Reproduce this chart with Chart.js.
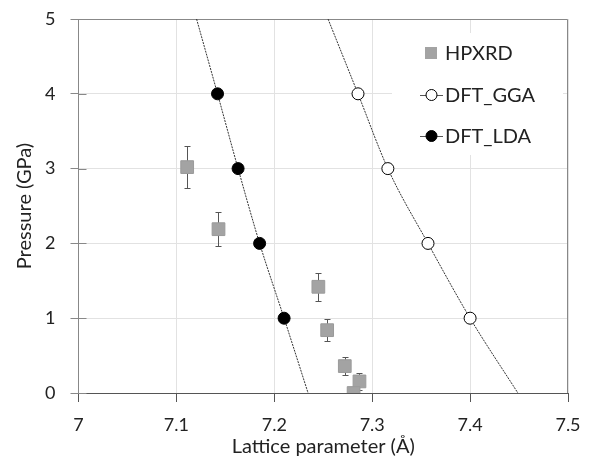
<!DOCTYPE html>
<html lang="en">
<head>
  <meta charset="UTF-8">
  <title>Pressure vs lattice parameter</title>
  <script src="https://cdn.jsdelivr.net/npm/chart.js"></script>
  <style>
    html, body { margin: 0; padding: 0; background: #fff; }
    #wrap { width: 598px; height: 465px; }
  </style>
</head>
<body>
  <div id="wrap"><canvas id="grafico" width="598" height="465"></canvas></div>
  <script>
    // HPXRD measurements (square markers with error bars)
    const hpxrdLattice  = [7.111, 7.143, 7.245, 7.254, 7.272, 7.287, 7.281];
    const hpxrdPressure = [3.02, 2.19, 1.42, 0.84, 0.36, 0.155, 0.0];
    const hpxrdError    = [0.28, 0.23, 0.19, 0.15, 0.12, 0.11, 0];

    // DFT points
    const ggaLattice  = [7.2855, 7.316, 7.357, 7.400];
    const ggaPressure = [4, 3, 2, 1];
    const ldaLattice  = [7.142, 7.163, 7.185, 7.210];
    const ldaPressure = [4, 3, 2, 1];

    const ggaTrendLattice  = [7.2549, 7.2855, 7.316, 7.357, 7.400, 7.4488];
    const ggaTrendPressure = [5, 4, 3, 2, 1, 0];
    const ldaTrendLattice  = [7.1206, 7.142, 7.163, 7.185, 7.210, 7.2345];
    const ldaTrendPressure = [5, 4, 3, 2, 1, 0];

    const xTicks = [7, 7.1, 7.2, 7.3, 7.4, 7.5];
    const yTicks = [0, 1, 2, 3, 4, 5];

    const pts = (xs, ys) => xs.map((v, i) => ({ x: v, y: ys[i] }));
    const FONT = "Lato, 'Open Sans', sans-serif";

    // error bars drawn under the squares
    const errorBars = {
      id: 'errorBars',
      beforeDatasetsDraw(chart) {
        const { ctx, scales: { x, y } } = chart;
        ctx.save();
        ctx.strokeStyle = '#555';
        ctx.lineWidth = 1;
        hpxrdLattice.forEach((v, i) => {
          const e = hpxrdError[i];
          if (!e) return;
          const px = Math.round(x.getPixelForValue(v)) + 0.5;
          const top = Math.round(y.getPixelForValue(hpxrdPressure[i] + e)) + 0.5;
          const bot = Math.round(y.getPixelForValue(hpxrdPressure[i] - e)) + 0.5;
          ctx.beginPath();
          ctx.moveTo(px, top); ctx.lineTo(px, bot);
          ctx.moveTo(px - 3, top); ctx.lineTo(px + 3, top);
          ctx.moveTo(px - 3, bot); ctx.lineTo(px + 3, bot);
          ctx.stroke();
        });
        ctx.restore();
      }
    };

    // top/right frame and the inner half of the y tick marks
    const frame = {
      id: 'frame',
      beforeDatasetsDraw(chart) {
        const { ctx, chartArea: a, scales: { y } } = chart;
        ctx.save();
        ctx.strokeStyle = '#888';
        ctx.lineWidth = 1;
        ctx.beginPath();
        ctx.moveTo(a.left, Math.round(a.top) + 0.5);
        ctx.lineTo(Math.round(a.right) - 0.5, Math.round(a.top) + 0.5);
        ctx.lineTo(Math.round(a.right) - 0.5, a.bottom);
        yTicks.forEach(v => {
          const py = Math.round(y.getPixelForValue(v)) + 0.5;
          ctx.moveTo(a.left, py);
          ctx.lineTo(a.left + 8, py);
        });
        ctx.stroke();
        ctx.restore();
      }
    };

    // legend inside the plot, top right
    const legendBox = {
      id: 'legendBox',
      afterDatasetsDraw(chart) {
        const { ctx } = chart;
        ctx.save();
        ctx.fillStyle = '#fff';
        ctx.fillRect(392, 33, 171, 122);
        ctx.font = '20px ' + FONT;
        ctx.textBaseline = 'middle';
        // HPXRD
        ctx.fillStyle = '#a3a3a3';
        ctx.fillRect(425, 47, 12, 12);
        ctx.fillStyle = '#222';
        ctx.fillText('HPXRD', 445, 54);
        // DFT_GGA / DFT_LDA
        [['DFT_GGA', 95, '#fff'], ['DFT_LDA', 136, '#000']].forEach(([txt, yy, fill]) => {
          ctx.strokeStyle = '#555';
          ctx.beginPath();
          ctx.moveTo(420, yy + 0.5); ctx.lineTo(443, yy + 0.5);
          ctx.stroke();
          ctx.beginPath();
          ctx.arc(431.5, yy, 5.5, 0, Math.PI * 2);
          ctx.fillStyle = fill;
          ctx.fill();
          ctx.strokeStyle = '#000';
          ctx.stroke();
          ctx.fillStyle = '#222';
          ctx.fillText(txt, 445, yy + 1);
        });
        ctx.restore();
      }
    };

    new Chart(document.getElementById('grafico'), {
      type: 'scatter',
      data: {
        datasets: [
          {
            label: 'HPXRD',
            data: pts(hpxrdLattice, hpxrdPressure),
            pointStyle: 'rect',
            pointRadius: 9,
            backgroundColor: '#a3a3a3',
            borderColor: '#9a9a9a',
            borderWidth: 1,
            order: 1
          },
          {
            label: 'DFT_GGA',
            data: pts(ggaLattice, ggaPressure),
            pointRadius: 6,
            backgroundColor: '#fff',
            borderColor: '#000',
            borderWidth: 1,
            order: 1
          },
          {
            label: 'DFT_LDA',
            data: pts(ldaLattice, ldaPressure),
            pointRadius: 6,
            backgroundColor: '#000',
            borderColor: '#000',
            borderWidth: 1,
            order: 1
          },
          {
            label: 'GGA trend',
            data: pts(ggaTrendLattice, ggaTrendPressure),
            showLine: true,
            cubicInterpolationMode: 'monotone',
            pointRadius: 0,
            borderColor: '#333',
            borderWidth: 1,
            borderDash: [2, 1],
            order: 10
          },
          {
            label: 'LDA trend',
            data: pts(ldaTrendLattice, ldaTrendPressure),
            showLine: true,
            cubicInterpolationMode: 'monotone',
            pointRadius: 0,
            borderColor: '#333',
            borderWidth: 1,
            borderDash: [2, 1],
            order: 10
          }
        ]
      },
      options: {
        responsive: false,
        animation: false,
        devicePixelRatio: 1,
        layout: { padding: { top: 19, right: 30, left: 0, bottom: 0 } },
        plugins: { legend: { display: false }, tooltip: { enabled: false } },
        scales: {
          x: {
            type: 'linear',
            min: 7, max: 7.5,
            afterBuildTicks: s => { s.ticks = xTicks.map(v => ({ value: v })); },
            afterFit: s => { s.height = 72; s.paddingLeft = 0; s.paddingRight = 0; },
            grid: { color: '#e2e2e2', tickColor: '#555', tickLength: 9 },
            border: { color: '#555', width: 1 },
            ticks: {
              color: '#222',
              font: { family: FONT, size: 18 },
              padding: 12,
              callback: v => String(v)
            },
            title: {
              display: true,
              text: 'Lattice parameter (Å)',
              color: '#222',
              font: { family: FONT, size: 20 },
              padding: { top: 0, bottom: 6 }
            }
          },
          y: {
            type: 'linear',
            min: 0, max: 5,
            afterBuildTicks: s => { s.ticks = yTicks.map(v => ({ value: v })); },
            afterFit: s => { s.width = 78.5; s.paddingTop = 0; s.paddingBottom = 0; },
            grid: { color: '#e2e2e2', tickColor: '#888', tickLength: 8 },
            border: { color: '#888', width: 1 },
            ticks: { color: '#222', font: { family: FONT, size: 18 }, padding: 15 },
            title: {
              display: true,
              text: 'Pressure (GPa)',
              color: '#222',
              font: { family: FONT, size: 20 },
              padding: { top: 13, bottom: 0 }
            }
          }
        }
      },
      plugins: [errorBars, frame, legendBox]
    });
  </script>
</body>
</html>
